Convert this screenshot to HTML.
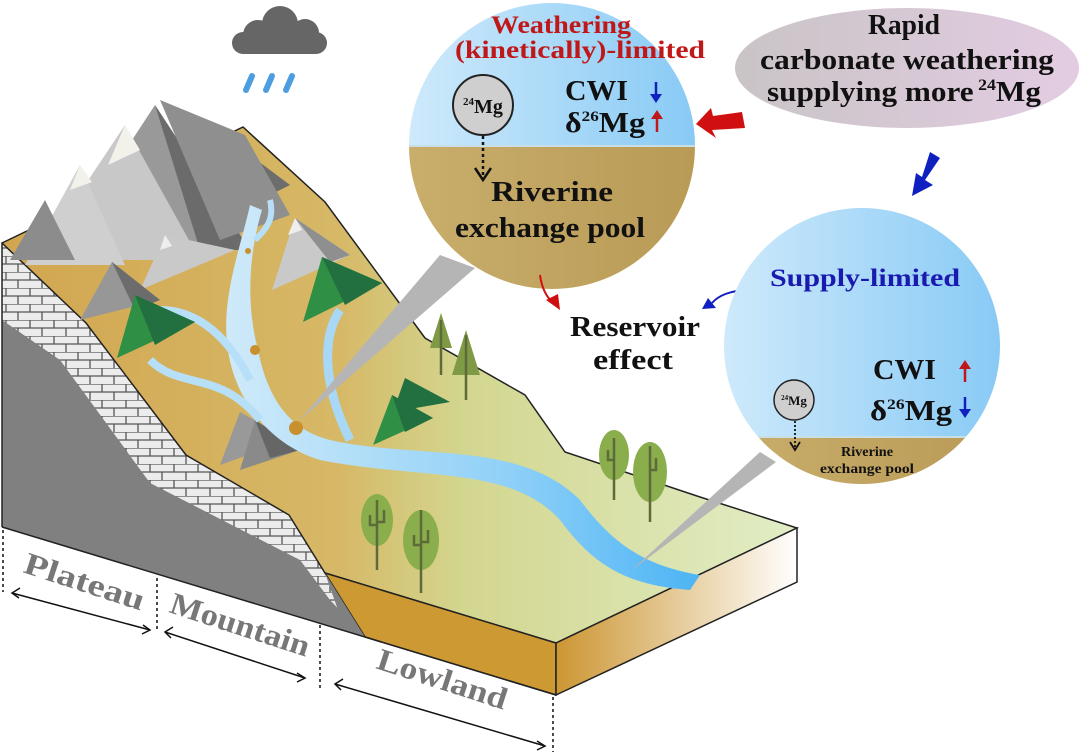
<!DOCTYPE html>
<html><head><meta charset="utf-8"><style>
html,body{margin:0;padding:0;background:#fff;width:1081px;height:756px;overflow:hidden}
text{font-family:"Liberation Serif",serif;font-weight:bold}
</style></head><body>
<svg width="1081" height="756" viewBox="0 0 1081 756" xmlns="http://www.w3.org/2000/svg">
<defs>
<linearGradient id="top" x1="0" y1="0" x2="1" y2="0">
<stop offset="0" stop-color="#d2a650"/><stop offset="0.42" stop-color="#d6b866"/><stop offset="0.58" stop-color="#d3d68f"/><stop offset="1" stop-color="#e1edc6"/></linearGradient>
<linearGradient id="rface" x1="0" y1="0" x2="1" y2="0"><stop offset="0" stop-color="#cc9633"/><stop offset="1" stop-color="#fff"/></linearGradient>
<linearGradient id="riv" x1="0" y1="0" x2="1" y2="0"><stop offset="0" stop-color="#cfeaf9"/><stop offset="0.6" stop-color="#8fd0f8"/><stop offset="1" stop-color="#4cb4f4"/></linearGradient>
<linearGradient id="sky" x1="0" y1="0" x2="1" y2="0"><stop offset="0" stop-color="#cfeafb"/><stop offset="1" stop-color="#86c9f5"/></linearGradient>
<linearGradient id="soil" x1="0" y1="0" x2="1" y2="0"><stop offset="0" stop-color="#c9ae6c"/><stop offset="1" stop-color="#b89a55"/></linearGradient>
<linearGradient id="ell" x1="0" y1="0" x2="1" y2="0"><stop offset="0" stop-color="#c9c4c6"/><stop offset="1" stop-color="#e3cce2"/></linearGradient>
<pattern id="brick" width="24" height="16" patternUnits="userSpaceOnUse">
<rect width="24" height="16" fill="#ececec"/>
<path d="M0 0H24M0 8H24M6 0V8M18 8V16" stroke="#555" stroke-width="1.3" fill="none"/></pattern>
<clipPath id="c1"><circle cx="552" cy="146" r="143"/></clipPath>
<clipPath id="c2"><circle cx="862" cy="346" r="138"/></clipPath>
</defs>

<g fill="#666">
<circle cx="258" cy="35" r="15"/><circle cx="280" cy="24" r="18"/><circle cx="305" cy="33" r="14"/>
<rect x="232" y="32" width="95" height="22" rx="11"/></g>
<g stroke="#4d9ee0" stroke-width="6" stroke-linecap="round">
<line x1="246" y1="90" x2="252" y2="76"/><line x1="266" y1="90" x2="272" y2="76"/><line x1="286" y1="90" x2="292" y2="76"/></g>

<polygon points="2,243 86,323 186,455 289,515 327,570 365,637 2,527" fill="url(#brick)"/>
<polygon points="2,320 60,360 150,483 300,560 330,600 365,637 2,527" fill="#808080"/>
<polygon points="2,243 243,127 325,202 425,338 525,395 565,452 700,497 797,528 556,643 325,573 289,515 186,455 86,323" fill="url(#top)" stroke="#222" stroke-width="1.5"/>
<polygon points="325,573 556,643 556,695 365,637" fill="#cc9933" stroke="#222" stroke-width="1.5"/>
<polygon points="325,573 365,637 345,630" fill="#808080"/>
<polygon points="556,643 797,528 797,582 556,695" fill="url(#rface)" stroke="#222" stroke-width="1.5"/>
<polyline points="2,527 365,637 556,695" fill="none" stroke="#222" stroke-width="1.5"/>
<line x1="2" y1="243" x2="2" y2="527" stroke="#222" stroke-width="1.5"/>

<g>
<polygon points="155,105 60,250 250,250" fill="#999"/>
<polygon points="155,105 250,250 200,250" fill="#6b6b6b"/>
<polygon points="200,170 230,140 290,185 260,200" fill="#6d6d6d"/>
<polygon points="160,100 245,135 290,215 220,240" fill="#8f8f8f"/>
<polygon points="125,125 35,260 200,260" fill="#c8c8c8"/>
<polygon points="125,125 108,165 140,150" fill="#f3f2ea"/>
<polygon points="80,165 25,265 125,265" fill="#cfcfcf"/>
<polygon points="80,165 70,190 92,182" fill="#f3f2ea"/>
<polygon points="45,200 10,260 75,260" fill="#8c8c8c"/>
<polygon points="165,235 140,290 235,250" fill="#c9c9c9"/>
<polygon points="165,235 160,250 172,246" fill="#eee"/>
<polygon points="112,262 80,320 160,300" fill="#979797"/>
<polygon points="112,262 160,300 135,310" fill="#6c6c6c"/>
<polygon points="295,218 272,290 350,255" fill="#c9c9c9"/>
<polygon points="295,218 350,255 330,262" fill="#8f8f8f"/>
<polygon points="295,218 288,235 302,230" fill="#eee"/>
<polygon points="240,412 220,465 290,440" fill="#999"/>
<polygon points="255,420 240,470 300,450" fill="#8a8a8a"/>
<polygon points="255,420 300,450 270,458" fill="#666"/>
</g>

<path d="M262,210 C250,250 245,300 258,350 C268,400 290,430 330,440 C420,460 520,440 580,500 C610,540 640,565 700,575 L690,590 C620,585 590,560 560,520 C510,465 420,480 320,460 C270,445 235,400 228,350 C220,300 240,250 250,205 Z" fill="url(#riv)"/>
<path d="M160,310 C200,310 230,340 250,380" stroke="#b7e0f8" stroke-width="8" fill="none"/>
<path d="M150,360 C180,390 220,370 260,420" stroke="#b7e0f8" stroke-width="8" fill="none"/>
<path d="M340,310 C320,340 325,390 350,440" stroke="#a8d8f6" stroke-width="9" fill="none"/>
<path d="M270,200 C275,220 265,230 255,240" stroke="#b7e0f8" stroke-width="6" fill="none"/>
<circle cx="296" cy="428" r="7" fill="#c8902e"/>
<circle cx="255" cy="350" r="5" fill="#c8902e"/>
<circle cx="248" cy="251" r="3" fill="#c8902e"/>

<g>
<polygon points="135,295 117,358 195,322" fill="#2f8f45"/><polygon points="135,295 195,322 155,345" fill="#22703f"/>
<polygon points="322,257 303,322 382,283" fill="#2f8f45"/><polygon points="322,257 382,283 345,305" fill="#22703f"/>
<polygon points="405,378 393,412 450,402" fill="#22703f"/>
<polygon points="392,395 373,445 433,418" fill="#2f8f45"/><polygon points="392,395 433,418 405,432" fill="#22703f"/>
</g>
<g fill="#7f9a45">
<polygon points="441,313 430,348 452,348"/><polygon points="466,330 452,375 480,375"/></g>
<g stroke="#5d6a3a" stroke-width="2.5"><line x1="441" y1="320" x2="441" y2="375"/><line x1="466" y1="335" x2="466" y2="400"/></g>
<g fill="#8aae4b">
<ellipse cx="377" cy="520" rx="16" ry="26"/><ellipse cx="421" cy="540" rx="18" ry="30"/>
<ellipse cx="614" cy="455" rx="15" ry="25"/><ellipse cx="650" cy="472" rx="17" ry="30"/></g>
<g stroke="#5d6a3a" stroke-width="2.5" fill="none">
<path d="M377,500V570M370,515v10h7M384,510v12h-7"/>
<path d="M421,510V593M414,535v10h7M428,530v12h-7"/>
<path d="M614,438V500M608,450v10h6"/>
<path d="M650,446V522M656,458v12h-6"/></g>

<polygon points="440,255 475,268 300,420" fill="#b5b5b5"/>
<polygon points="760,452 776,462 632,570" fill="#b5b5b5"/>

<g clip-path="url(#c1)">
<rect x="405" y="0" width="300" height="146" fill="url(#sky)"/>
<rect x="405" y="146" width="300" height="150" fill="url(#soil)"/>
<line x1="405" y1="146" x2="700" y2="146" stroke="#c8dfe8" stroke-width="2"/>
</g>
<text x="561" y="33" text-anchor="middle" font-size="25" fill="#c01818" textLength="140" lengthAdjust="spacingAndGlyphs">Weathering</text>
<text x="580" y="58" text-anchor="middle" font-size="25" fill="#c01818" textLength="250" lengthAdjust="spacingAndGlyphs">(kinetically)-limited</text>
<circle cx="483" cy="105" r="30" fill="#cfcfcf" stroke="#222" stroke-width="2"/>
<text x="483" y="113" text-anchor="middle" font-size="20" fill="#111"><tspan font-size="11" dy="-8">24</tspan><tspan dy="8">Mg</tspan></text>
<line x1="483" y1="136" x2="483" y2="176" stroke="#111" stroke-width="2.5" stroke-dasharray="3,3"/>
<polyline points="475,168 483,180 491,168" fill="none" stroke="#111" stroke-width="2.5"/>
<text x="565" y="100" font-size="28" fill="#111" textLength="63" lengthAdjust="spacingAndGlyphs">CWI</text>
<line x1="656" y1="82" x2="656" y2="98" stroke="#1020c0" stroke-width="2.5"/><polygon points="650,94 662,94 656,103" fill="#1020c0"/>
<text x="565" y="132" font-size="28" fill="#111" textLength="80" lengthAdjust="spacingAndGlyphs">δ<tspan font-size="15" dy="-11">26</tspan><tspan dy="11">Mg</tspan></text>
<line x1="657" y1="115" x2="657" y2="132" stroke="#c01818" stroke-width="2.5"/><polygon points="651,119 663,119 657,110" fill="#c01818"/>
<text x="552" y="201" text-anchor="middle" font-size="29" fill="#111" textLength="122" lengthAdjust="spacingAndGlyphs">Riverine</text>
<text x="550" y="237" text-anchor="middle" font-size="29" fill="#111" textLength="190" lengthAdjust="spacingAndGlyphs">exchange pool</text>

<ellipse cx="907" cy="68" rx="172" ry="60" fill="url(#ell)"/>
<text x="904" y="34" text-anchor="middle" font-size="28" fill="#111" textLength="72" lengthAdjust="spacingAndGlyphs">Rapid</text>
<text x="907" y="69" text-anchor="middle" font-size="28" fill="#111" textLength="294" lengthAdjust="spacingAndGlyphs">carbonate weathering</text>
<text x="904" y="101" text-anchor="middle" font-size="28" fill="#111" textLength="274" lengthAdjust="spacingAndGlyphs">supplying more<tspan font-size="16" dy="-11"> 24</tspan><tspan dy="11">Mg</tspan></text>

<polygon points="742,112 745,128 712,130 716,138 696,124 711,108 713,116" fill="#d01010"/>
<polygon points="930,152 940,158 925,180 933,185 912,196 916,173 922,177" fill="#1020c0"/>
<path d="M540,275 C542,290 548,298 552,302" stroke="#d01010" stroke-width="2" fill="none"/>
<polygon points="546,300 560,310 558,294" fill="#d01010"/>
<path d="M750,290 C730,290 718,296 712,303" stroke="#1020c0" stroke-width="2" fill="none"/>
<polygon points="702,309 716,308 708,298" fill="#1020c0"/>
<text x="635" y="336" text-anchor="middle" font-size="28" fill="#111" textLength="130" lengthAdjust="spacingAndGlyphs">Reservoir</text>
<text x="633" y="369" text-anchor="middle" font-size="28" fill="#111" textLength="80" lengthAdjust="spacingAndGlyphs">effect</text>

<g clip-path="url(#c2)">
<rect x="720" y="205" width="290" height="232" fill="url(#sky)"/>
<rect x="720" y="437" width="290" height="60" fill="url(#soil)"/>
<line x1="720" y1="437" x2="1005" y2="437" stroke="#c8dfe8" stroke-width="2"/>
</g>
<text x="865" y="286" text-anchor="middle" font-size="25" fill="#1a1ab0" textLength="190" lengthAdjust="spacingAndGlyphs">Supply-limited</text>
<text x="873" y="379" font-size="28" fill="#111" textLength="63" lengthAdjust="spacingAndGlyphs">CWI</text>
<line x1="965" y1="365" x2="965" y2="382" stroke="#c01818" stroke-width="2.5"/><polygon points="959,369 971,369 965,360" fill="#c01818"/>
<text x="870" y="420" font-size="28" fill="#111" textLength="82" lengthAdjust="spacingAndGlyphs">δ<tspan font-size="15" dy="-11">26</tspan><tspan dy="11">Mg</tspan></text>
<line x1="965" y1="397" x2="965" y2="413" stroke="#1020c0" stroke-width="2.5"/><polygon points="959,409 971,409 965,418" fill="#1020c0"/>
<circle cx="794" cy="400" r="20" fill="#cfcfcf" stroke="#222" stroke-width="1.5"/>
<text x="794" y="405" text-anchor="middle" font-size="13" fill="#111"><tspan font-size="7" dy="-5">24</tspan><tspan dy="5">Mg</tspan></text>
<line x1="795" y1="421" x2="795" y2="448" stroke="#111" stroke-width="1.8" stroke-dasharray="2,2"/>
<polyline points="790,442 795,450 800,442" fill="none" stroke="#111" stroke-width="1.8"/>
<text x="867" y="456" text-anchor="middle" font-size="14" fill="#111" textLength="52" lengthAdjust="spacingAndGlyphs">Riverine</text>
<text x="867" y="473" text-anchor="middle" font-size="14" fill="#111" textLength="94" lengthAdjust="spacingAndGlyphs">exchange pool</text>

<g stroke="#111" stroke-width="1.5" stroke-dasharray="3,3">
<line x1="3" y1="530" x2="3" y2="592"/><line x1="157" y1="578" x2="157" y2="632"/><line x1="320" y1="625" x2="320" y2="690"/><line x1="553" y1="697" x2="553" y2="752"/></g>
<g stroke="#111" stroke-width="1.5" fill="none">
<line x1="12" y1="593" x2="150" y2="630"/><polyline points="20,588 12,593 19,598"/><polyline points="143,625 150,630 142,634"/>
<line x1="165" y1="632" x2="305" y2="678"/><polyline points="173,627 165,632 171,638"/><polyline points="297,673 305,678 297,682"/>
<line x1="335" y1="684" x2="545" y2="746"/><polyline points="343,679 335,684 341,690"/><polyline points="537,741 545,746 537,750"/>
</g>
<g font-size="31" fill="#777">
<text transform="translate(22,572) rotate(18)" textLength="125" lengthAdjust="spacingAndGlyphs">Plateau</text>
<text transform="translate(168,612) rotate(18)" textLength="145" lengthAdjust="spacingAndGlyphs">Mountain</text>
<text transform="translate(375,668) rotate(18)" textLength="135" lengthAdjust="spacingAndGlyphs">Lowland</text>
</g>
</svg>
</body></html>
